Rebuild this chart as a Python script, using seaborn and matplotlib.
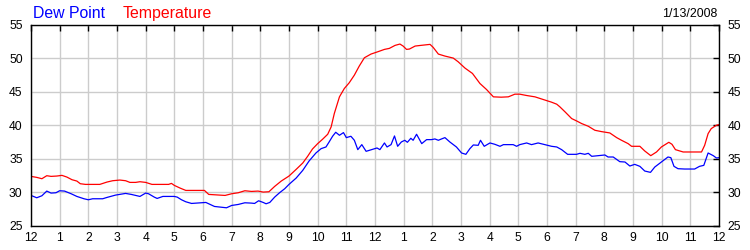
import matplotlib
matplotlib.use("Agg")
import matplotlib.pyplot as plt
import seaborn as sns
import pandas as pd

temp_hours = [0.0, 0.2, 0.38, 0.55, 0.7, 0.9, 1.08, 1.25, 1.43, 1.6, 1.72, 1.9, 2.4, 2.65, 2.85,
              3.1, 3.3, 3.45, 3.65, 3.8, 4.0, 4.22, 4.8, 4.9, 5.0, 5.2, 5.4, 6.05, 6.2, 6.77,
              7.0, 7.23, 7.46, 7.69, 7.92, 8.1, 8.3, 8.5, 8.73, 9.0, 9.25, 9.48, 9.65, 9.82,
              10.0, 10.17, 10.35, 10.47, 10.58, 10.76, 10.93, 11.1, 11.28, 11.45, 11.63, 11.86,
              12.1, 12.33, 12.5, 12.7, 12.87, 12.98, 13.1, 13.2, 13.4, 13.6, 13.92, 14.03, 14.21,
              14.44, 14.73, 14.9, 15.14, 15.4, 15.66, 15.89, 16.13, 16.4, 16.65, 16.88, 17.05,
              17.29, 17.58, 17.87, 18.16, 18.34, 18.45, 18.63, 18.86, 19.03, 19.21, 19.44, 19.67,
              19.9, 20.19, 20.43, 20.6, 20.83, 20.95, 21.24, 21.41, 21.62, 21.82, 21.99, 22.25,
              22.36, 22.48, 22.75, 23.39, 23.5, 23.62, 23.73, 23.91, 24.0]
temp_values = [32.35, 32.2, 32.0, 32.45, 32.35, 32.4, 32.5, 32.25, 31.85, 31.65, 31.25, 31.15, 31.15,
               31.5, 31.7, 31.8, 31.7, 31.45, 31.45, 31.55, 31.45, 31.15, 31.15, 31.3, 31.0, 30.6,
               30.25, 30.25, 29.65, 29.5, 29.75, 29.9, 30.2, 30.1, 30.15, 30.0, 30.05, 30.85, 31.65,
               32.4, 33.4, 34.35, 35.35, 36.45, 37.25, 37.9, 38.65, 39.75, 41.75, 44.25, 45.5, 46.35,
               47.5, 48.85, 50.1, 50.65, 51.0, 51.35, 51.5, 51.95, 52.15, 51.85, 51.35, 51.4, 51.85,
               51.95, 52.1, 51.65, 50.65, 50.35, 50.05, 49.5, 48.55, 47.75, 46.25, 45.35, 44.25,
               44.2, 44.25, 44.65, 44.65, 44.45, 44.25, 43.85, 43.45, 43.15, 42.75, 42.0, 41.0,
               40.65, 40.25, 39.85, 39.25, 39.05, 38.85, 38.15, 37.75, 37.25, 36.85, 36.85, 36.15,
               35.45, 36.0, 36.75, 37.45, 37.15, 36.35, 36.0, 36.0, 37.0, 38.75, 39.5, 40.0, 40.1]

dew_hours = [0.0, 0.2, 0.38, 0.55, 0.7, 0.87, 1.0, 1.17, 1.4, 1.6, 1.85, 2.0, 2.15, 2.5, 2.65, 2.95,
             3.3, 3.5, 3.8, 4.0, 4.1, 4.3, 4.4, 4.6, 5.0, 5.1, 5.25, 5.4, 5.6, 6.1, 6.2, 6.4, 6.82,
             7.0, 7.23, 7.46, 7.69, 7.8, 7.94, 8.1, 8.2, 8.33, 8.5, 8.67, 8.85, 9.0, 9.25, 9.48,
             9.7, 9.94, 10.12, 10.29, 10.4, 10.52, 10.63, 10.76, 10.9, 11.0, 11.16, 11.28, 11.4,
             11.54, 11.69, 11.92, 12.07, 12.17, 12.33, 12.42, 12.56, 12.68, 12.79, 12.92, 13.04,
             13.13, 13.25, 13.33, 13.45, 13.63, 13.8, 13.97, 14.09, 14.21, 14.32, 14.44, 14.61,
             14.84, 15.02, 15.17, 15.31, 15.43, 15.6, 15.68, 15.81, 16.01, 16.18, 16.36, 16.48,
             16.82, 16.94, 17.05, 17.29, 17.46, 17.69, 17.93, 18.16, 18.34, 18.51, 18.72, 19.03,
             19.15, 19.32, 19.44, 19.56, 19.79, 20.02, 20.13, 20.31, 20.54, 20.72, 20.89, 21.06,
             21.24, 21.41, 21.61, 21.76, 21.99, 22.22, 22.32, 22.43, 22.57, 22.8, 23.15, 23.32,
             23.47, 23.62, 23.8, 23.91, 24.0]
dew_values = [29.5, 29.15, 29.45, 30.15, 29.85, 29.9, 30.2, 30.15, 29.75, 29.35, 29.0, 28.85, 29.0,
              29.0, 29.2, 29.55, 29.8, 29.65, 29.35, 29.85, 29.75, 29.25, 29.05, 29.35, 29.35, 29.25,
              28.85, 28.55, 28.3, 28.45, 28.25, 27.85, 27.65, 28.0, 28.15, 28.4, 28.35, 28.3, 28.7,
              28.45, 28.25, 28.45, 29.25, 29.9, 30.5, 31.15, 32.1, 33.25, 34.65, 35.85, 36.5, 36.75,
              37.5, 38.35, 38.95, 38.5, 38.9, 38.15, 38.35, 37.75, 36.35, 37.1, 36.1, 36.4, 36.6,
              36.35, 37.35, 36.75, 37.1, 38.4, 36.85, 37.5, 37.75, 37.45, 38.05, 37.75, 38.65, 37.25,
              37.85, 37.85, 37.95, 37.75, 37.95, 38.15, 37.5, 36.75, 35.85, 35.65, 36.5, 37.05, 37.0,
              37.75, 36.85, 37.35, 37.15, 36.85, 37.1, 37.1, 36.85, 37.1, 37.35, 37.1, 37.35, 37.1,
              36.85, 36.75, 36.35, 35.65, 35.65, 35.8, 35.65, 35.8, 35.35, 35.45, 35.55, 35.25,
              35.25, 34.55, 34.5, 33.9, 34.15, 33.85, 33.15, 32.95, 33.75, 34.5, 35.25, 35.15, 33.85,
              33.5, 33.45, 33.45, 33.85, 34.0, 35.85, 35.45, 35.1, 35.15]

x_tick_labels = ["12", "1", "2", "3", "4", "5", "6", "7", "8", "9", "10", "11",
                 "12", "1", "2", "3", "4", "5", "6", "7", "8", "9", "10", "11", "12"]
y_ticks = [25, 30, 35, 40, 45, 50, 55]
date_label = "1/13/2008"
series_names = ["Dew Point", "Temperature"]

sns.set_style("white")
plt.rcParams["font.family"] = ["Liberation Sans", "DejaVu Sans"]

fig = plt.figure(figsize=(7.5, 2.5), dpi=100)
ax = fig.add_axes([31 / 750, 1 - 225.5 / 250, (719 - 31) / 750, (225.5 - 25) / 250])

temp_df = pd.DataFrame({"hour": temp_hours, "value": temp_values})
dew_df = pd.DataFrame({"hour": dew_hours, "value": dew_values})

sns.lineplot(data=dew_df, x="hour", y="value", ax=ax, color="#0000ff", lw=0.9, estimator=None)
sns.lineplot(data=temp_df, x="hour", y="value", ax=ax, color="#ff0000", lw=0.9, estimator=None)

ax.set_xlim(0, 24)
ax.set_ylim(25, 55)
ax.set_xticks(range(25))
ax.set_xticklabels(x_tick_labels)
ax.set_yticks(y_ticks)
ax.set_xlabel("")
ax.set_ylabel("")
ax.set_axisbelow(True)
ax.grid(True, color="#cccccc", lw=1.0)
for s in ax.spines.values():
    s.set_visible(True)
    s.set_color("black")
    s.set_linewidth(1.0)
ax.tick_params(axis="both", direction="in", length=4, width=1, color="black",
               labelsize=8.7, labelcolor="black", top=True, right=True,
               labelright=True, labelleft=True)
ax.tick_params(axis="y", pad=6)
ax.tick_params(axis="x", pad=5)

fig.text(33 / 750, 1 - 17.5 / 250, series_names[0], color="#0000ff", fontsize=11.4, va="baseline", ha="left")
fig.text(123 / 750, 1 - 17.5 / 250, series_names[1], color="#ff0000", fontsize=11.4, va="baseline", ha="left")
fig.text(717.5 / 750, 1 - 16.7 / 250, date_label, color="black", fontsize=8.9, va="baseline", ha="right")

fig.savefig("out.png", dpi=100, facecolor="white")
